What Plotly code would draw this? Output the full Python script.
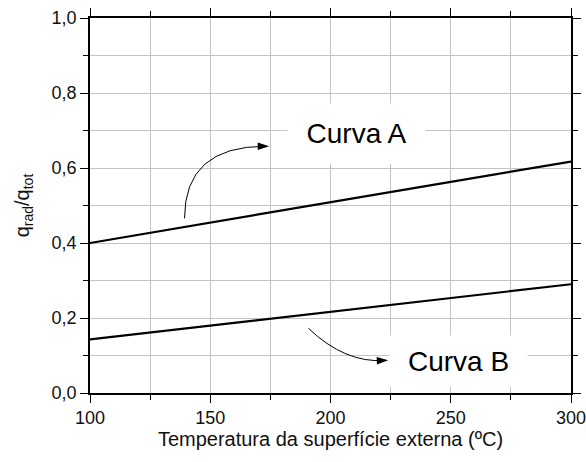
import plotly.graph_objects as go

# Data
temperature = [100, 150, 200, 250, 300]
curva_a = [0.400, 0.455, 0.509, 0.563, 0.617]
curva_b = [0.143, 0.180, 0.217, 0.253, 0.290]

x_ticks = [100, 150, 200, 250, 300]
y_ticks = [0.0, 0.2, 0.4, 0.6, 0.8, 1.0]

# Annotation geometry (data coordinates)
arrow_a = dict(start=(139.3, 0.466), ctrl=(139.3, 0.658), end=(173.0, 0.658), tip=(174.5, 0.658), angle=90)
arrow_b = dict(start=(190.8, 0.1725), ctrl=(206.2, 0.079), end=(222.5, 0.087), tip=(224.0, 0.0872), angle=88)
label_a = dict(text="Curva A", x=211.0, y=0.6925)
label_b = dict(text="Curva B", x=253.4, y=0.0845)

FONT = "Liberation Sans, Arial, sans-serif"

fig = go.Figure()
for ys in (curva_a, curva_b):
    fig.add_trace(go.Scatter(x=temperature, y=ys, mode="lines",
                             line=dict(color="black", width=2.2),
                             showlegend=False, hoverinfo="skip"))

for arr in (arrow_a, arrow_b):
    (x0, y0), (cx, cy), (x1, y1) = arr["start"], arr["ctrl"], arr["end"]
    fig.add_shape(type="path", xref="x", yref="y",
                  path=f"M {x0},{y0} Q {cx},{cy} {x1},{y1}",
                  line=dict(color="black", width=1), layer="above")
    fig.add_trace(go.Scatter(x=[arr["tip"][0]], y=[arr["tip"][1]], mode="markers",
                             marker=dict(symbol="arrow", angle=arr["angle"], size=12,
                                         color="black", line=dict(width=0)),
                             showlegend=False, hoverinfo="skip", cliponaxis=False))

for lab, h in ((label_a, 57), (label_b, 48)):
    fig.add_annotation(x=lab["x"], y=lab["y"], xref="x", yref="y",
                       text=lab["text"], showarrow=False,
                       font=dict(family=FONT, size=28, color="black"),
                       bgcolor="white", width=135, height=h, align="center",
                       valign="middle")

axis_common = dict(showline=True, linecolor="black", linewidth=1.5, mirror="ticks",
                   ticks="outside", tickcolor="black", tickwidth=1.2, ticklen=8,
                   showgrid=True, gridcolor="#c4c4c4", gridwidth=1, zeroline=False,
                   automargin=False, ticklabeloverflow="allow",
                   tickfont=dict(family=FONT, size=18, color="#111"))

fig.update_xaxes(range=[100, 300], tickvals=x_ticks,
                 minor=dict(dtick=25, ticks="outside", ticklen=5, tickcolor="black",
                            showgrid=True, gridcolor="#c4c4c4", gridwidth=1),
                 title=dict(text="Temperatura da superfície externa (ºC)",
                            font=dict(family=FONT, size=20, color="#111"), standoff=4),
                 **axis_common)
fig.update_yaxes(range=[0, 1.0], tickvals=y_ticks, tickformat=".1f",
                 minor=dict(dtick=0.1, ticks="outside", ticklen=5, tickcolor="black",
                            showgrid=True, gridcolor="#c4c4c4", gridwidth=1),
                 title=dict(text="q<sub>rad</sub>/q<sub>tot</sub>",
                            font=dict(family=FONT, size=20, color="#111"), standoff=17),
                 **axis_common)

fig.update_layout(width=586, height=462, separators=",.",
                  margin=dict(l=90, r=15, t=18, b=69),
                  plot_bgcolor="white", paper_bgcolor="white")

fig.write_html("out.html")
